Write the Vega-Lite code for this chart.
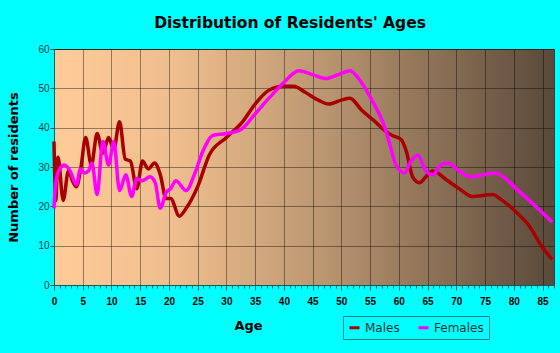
{
  "$schema": "https://vega.github.io/schema/vega-lite/v6.json",
  "width": 500,
  "height": 236,
  "autosize": {"type": "none"},
  "padding": {"left": 54, "top": 49, "right": 6, "bottom": 68},
  "background": "#00FFFF",
  "title": {"text": "Distribution of Residents' Ages", "font": "DejaVu Sans", "fontSize": 15.5, "fontWeight": "bold", "color": "#000000", "anchor": "middle", "dx": -14, "offset": 13},
  "config": {
    "view": {"stroke": "#3a3a3a", "strokeWidth": 1, "fill": {"gradient": "linear", "x1": 0, "y1": 0, "x2": 1, "y2": 0, "stops": [{"offset": 0, "color": "#FFCC99"}, {"offset": 0.25, "color": "#EEBD8D"}, {"offset": 0.55, "color": "#B8946F"}, {"offset": 1, "color": "#5A493A"}]}},
    "axis": {"labelFont": "Liberation Sans", "titleFont": "DejaVu Sans"}
  },
  "data": {"values": [
    {"sex": "Males", "age": 0, "n": 36.5},
    {"sex": "Males", "age": 0.3, "n": 21.5},
    {"sex": "Males", "age": 0.7, "n": 32.5},
    {"sex": "Males", "age": 1.6, "n": 21.5},
    {"sex": "Males", "age": 2.5, "n": 29},
    {"sex": "Males", "age": 3.2, "n": 26.5},
    {"sex": "Males", "age": 3.9, "n": 25},
    {"sex": "Males", "age": 4.7, "n": 30},
    {"sex": "Males", "age": 5.5, "n": 37.5},
    {"sex": "Males", "age": 6.5, "n": 30.5},
    {"sex": "Males", "age": 7.5, "n": 38.5},
    {"sex": "Males", "age": 8.5, "n": 33.5},
    {"sex": "Males", "age": 9.5, "n": 37.5},
    {"sex": "Males", "age": 10.4, "n": 34.5},
    {"sex": "Males", "age": 11.4, "n": 41.5},
    {"sex": "Males", "age": 12.4, "n": 32},
    {"sex": "Males", "age": 13.3, "n": 31.5},
    {"sex": "Males", "age": 14.4, "n": 24.5},
    {"sex": "Males", "age": 15.4, "n": 31.5},
    {"sex": "Males", "age": 16.4, "n": 29.5},
    {"sex": "Males", "age": 17.5, "n": 31},
    {"sex": "Males", "age": 18.5, "n": 28},
    {"sex": "Males", "age": 19.5, "n": 22},
    {"sex": "Males", "age": 20.3, "n": 22},
    {"sex": "Males", "age": 21.8, "n": 17.5},
    {"sex": "Males", "age": 23, "n": 19.5},
    {"sex": "Males", "age": 25, "n": 25},
    {"sex": "Males", "age": 27, "n": 33},
    {"sex": "Males", "age": 30, "n": 37.5},
    {"sex": "Males", "age": 32.8, "n": 41.5},
    {"sex": "Males", "age": 35, "n": 46},
    {"sex": "Males", "age": 37.4, "n": 49.5},
    {"sex": "Males", "age": 40, "n": 50.5},
    {"sex": "Males", "age": 41.7, "n": 50.5},
    {"sex": "Males", "age": 43.7, "n": 49},
    {"sex": "Males", "age": 46, "n": 47},
    {"sex": "Males", "age": 47.8, "n": 46},
    {"sex": "Males", "age": 50, "n": 47},
    {"sex": "Males", "age": 51.5, "n": 47.5},
    {"sex": "Males", "age": 53.5, "n": 44.5},
    {"sex": "Males", "age": 55.5, "n": 42},
    {"sex": "Males", "age": 57.8, "n": 39},
    {"sex": "Males", "age": 58.9, "n": 38},
    {"sex": "Males", "age": 60.4, "n": 37},
    {"sex": "Males", "age": 61.3, "n": 34},
    {"sex": "Males", "age": 62.4, "n": 27.5},
    {"sex": "Males", "age": 63.6, "n": 26},
    {"sex": "Males", "age": 64.7, "n": 27.5},
    {"sex": "Males", "age": 65.9, "n": 29},
    {"sex": "Males", "age": 68.5, "n": 26.5},
    {"sex": "Males", "age": 70.5, "n": 24.5},
    {"sex": "Males", "age": 72.8, "n": 22.5},
    {"sex": "Males", "age": 76.3, "n": 23},
    {"sex": "Males", "age": 78, "n": 21.5},
    {"sex": "Males", "age": 80.1, "n": 19},
    {"sex": "Males", "age": 82.7, "n": 15},
    {"sex": "Males", "age": 85, "n": 9.5},
    {"sex": "Males", "age": 86.7, "n": 6.5},
    {"sex": "Females", "age": 0, "n": 19.5},
    {"sex": "Females", "age": 0.3, "n": 26},
    {"sex": "Females", "age": 1, "n": 29.5},
    {"sex": "Females", "age": 1.8, "n": 30.5},
    {"sex": "Females", "age": 2.8, "n": 29},
    {"sex": "Females", "age": 3.9, "n": 25.5},
    {"sex": "Females", "age": 4.6, "n": 29.5},
    {"sex": "Females", "age": 5.3, "n": 28.5},
    {"sex": "Females", "age": 6, "n": 29},
    {"sex": "Females", "age": 6.6, "n": 31},
    {"sex": "Females", "age": 7.5, "n": 23},
    {"sex": "Females", "age": 8.5, "n": 36.5},
    {"sex": "Females", "age": 9.5, "n": 30.5},
    {"sex": "Females", "age": 10.4, "n": 36.5},
    {"sex": "Females", "age": 11.4, "n": 24},
    {"sex": "Females", "age": 12.5, "n": 28},
    {"sex": "Females", "age": 13.5, "n": 22.5},
    {"sex": "Females", "age": 14.4, "n": 27},
    {"sex": "Females", "age": 15.3, "n": 26.5},
    {"sex": "Females", "age": 16.7, "n": 27.5},
    {"sex": "Females", "age": 17.6, "n": 26},
    {"sex": "Females", "age": 18.5, "n": 19.5},
    {"sex": "Females", "age": 19.5, "n": 23.5},
    {"sex": "Females", "age": 20.3, "n": 24.5},
    {"sex": "Females", "age": 21.2, "n": 26.5},
    {"sex": "Females", "age": 23, "n": 24},
    {"sex": "Females", "age": 24.4, "n": 28},
    {"sex": "Females", "age": 25.9, "n": 34},
    {"sex": "Females", "age": 27.6, "n": 38},
    {"sex": "Females", "age": 30, "n": 38.5},
    {"sex": "Females", "age": 32.5, "n": 39.5},
    {"sex": "Females", "age": 35, "n": 43.5},
    {"sex": "Females", "age": 37.4, "n": 47.5},
    {"sex": "Females", "age": 40, "n": 51.5},
    {"sex": "Females", "age": 42.6, "n": 54.5},
    {"sex": "Females", "age": 45, "n": 53.5},
    {"sex": "Females", "age": 47.2, "n": 52.5},
    {"sex": "Females", "age": 49.5, "n": 53.5},
    {"sex": "Females", "age": 51.5, "n": 54.5},
    {"sex": "Females", "age": 53.5, "n": 51.5},
    {"sex": "Females", "age": 55.5, "n": 46.5},
    {"sex": "Females", "age": 57.2, "n": 41.5},
    {"sex": "Females", "age": 58.4, "n": 36},
    {"sex": "Females", "age": 59.5, "n": 30.5},
    {"sex": "Females", "age": 61, "n": 28.5},
    {"sex": "Females", "age": 62.1, "n": 31.5},
    {"sex": "Females", "age": 63.3, "n": 33},
    {"sex": "Females", "age": 64.7, "n": 29},
    {"sex": "Females", "age": 65.9, "n": 28},
    {"sex": "Females", "age": 67.3, "n": 30.5},
    {"sex": "Females", "age": 68.5, "n": 31},
    {"sex": "Females", "age": 70.5, "n": 29},
    {"sex": "Females", "age": 72.5, "n": 27.5},
    {"sex": "Females", "age": 74.6, "n": 28},
    {"sex": "Females", "age": 76.9, "n": 28.5},
    {"sex": "Females", "age": 78.6, "n": 27},
    {"sex": "Females", "age": 80.4, "n": 24.5},
    {"sex": "Females", "age": 82.7, "n": 21.5},
    {"sex": "Females", "age": 86.7, "n": 16}
  ]},
  "encoding": {
    "y": {"field": "n", "type": "quantitative", "scale": {"domain": [0, 60], "nice": false},
      "axis": {"values": [0, 10, 20, 30, 40, 50, 60], "title": "Number of residents", "titleFontSize": 13, "titleFontWeight": "bold", "titleColor": "#000000", "titlePadding": 17, "labelFontSize": 10, "labelColor": "#103c3c", "labelPadding": 1, "tickSize": 4, "tickColor": "#006060", "domainColor": "#006060", "grid": true, "gridColor": "#000000", "gridOpacity": 0.4}},
    "color": {"field": "sex", "type": "nominal", "scale": {"domain": ["Males", "Females"], "range": ["#A80000", "#FF00FF"]},
      "legend": {"title": null, "orient": "none", "legendX": 289, "legendY": 267, "direction": "horizontal", "strokeColor": "#008080", "padding": 5, "symbolType": "stroke", "symbolSize": 100, "symbolStrokeWidth": 3, "labelFont": "DejaVu Sans", "labelFontSize": 12, "labelColor": "#0d3333", "labelOffset": 4, "columnPadding": 12}}
  },
  "layer": [
    {
      "transform": [{"filter": "datum.sex == 'Males'"}],
      "mark": {"type": "line", "interpolate": "monotone", "strokeWidth": 3.5},
      "encoding": {
        "x": {"field": "age", "type": "quantitative", "scale": {"domain": [0, 87], "nice": false},
          "axis": {"orient": "bottom", "values": [0, 5, 10, 15, 20, 25, 30, 35, 40, 45, 50, 55, 60, 65, 70, 75, 80, 85], "title": "Age", "titleFontSize": 13, "titleFontWeight": "bold", "titleColor": "#000000", "titleX": 194, "titleY": 40, "titleBaseline": "middle", "labelFontSize": 10, "labelFontWeight": "bold", "labelColor": "#000000", "labelPadding": 6, "labelFlush": false, "tickSize": 5, "tickColor": "#006060", "domainColor": "#006060", "grid": true, "gridColor": "#000000", "gridOpacity": 0.4}}
      }
    },
    {
      "transform": [{"filter": "datum.sex == 'Females'"}],
      "mark": {"type": "line", "interpolate": "monotone", "strokeWidth": 3.5},
      "encoding": {
        "x": {"field": "age", "type": "quantitative", "scale": {"domain": [0, 87], "nice": false},
          "axis": {"orient": "bottom", "values": [0,1,2,3,4,5,6,7,8,9,10,11,12,13,14,15,16,17,18,19,20,21,22,23,24,25,26,27,28,29,30,31,32,33,34,35,36,37,38,39,40,41,42,43,44,45,46,47,48,49,50,51,52,53,54,55,56,57,58,59,60,61,62,63,64,65,66,67,68,69,70,71,72,73,74,75,76,77,78,79,80,81,82,83,84,85,86,87], "title": null, "labels": false, "grid": false, "domain": false, "tickSize": 3, "tickColor": "#006060"}}
      }
    }
  ],
  "resolve": {"axis": {"x": "independent"}}
}
